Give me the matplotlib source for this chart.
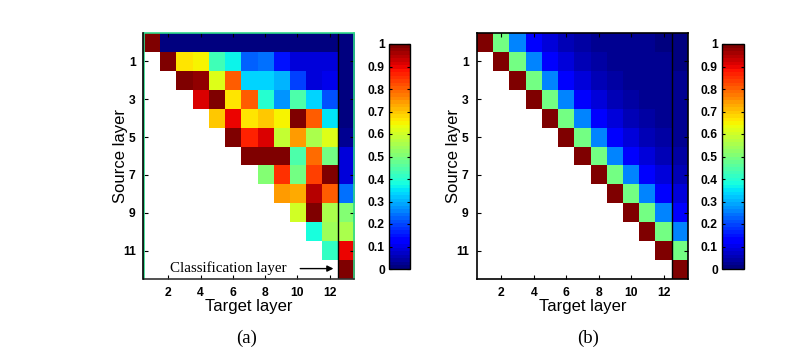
import numpy as np
import matplotlib
matplotlib.use("Agg")
import matplotlib.pyplot as plt
from matplotlib.colors import ListedColormap
from matplotlib.lines import Line2D

n = float('nan')
# Panel (a): transfer matrix, rows = source layer 0..12, cols = target layer 1..13
panel_a = [
    [0.99, 0.01, 0.01, 0.01, 0.01, 0.01, 0.01, 0.01, 0.01, 0.01, 0.01, 0.01, 0.01],
    [n, 0.99, 0.66, 0.65, 0.43, 0.36, 0.22, 0.24, 0.15, 0.09, 0.08, 0.09, 0.01],
    [n, n, 0.99, 0.98, 0.62, 0.80, 0.33, 0.33, 0.31, 0.20, 0.09, 0.10, 0.01],
    [n, n, n, 0.92, 0.99, 0.66, 0.80, 0.40, 0.28, 0.45, 0.34, 0.21, 0.01],
    [n, n, n, n, 0.70, 0.90, 0.66, 0.69, 0.65, 1.00, 0.80, 0.35, 0.01],
    [n, n, n, n, n, 0.99, 0.87, 0.92, 0.585, 0.74, 0.55, 0.62, 0.02],
    [n, n, n, n, n, n, 1.00, 1.00, 1.00, 0.45, 0.79, 0.49, 0.08],
    [n, n, n, n, n, n, n, 0.51, 0.85, 0.49, 0.84, 0.99, 0.08],
    [n, n, n, n, n, n, n, n, 0.74, 0.73, 0.94, 0.80, 0.24],
    [n, n, n, n, n, n, n, n, n, 0.60, 0.99, 0.55, 0.50],
    [n, n, n, n, n, n, n, n, n, n, 0.375, 0.54, 0.55],
    [n, n, n, n, n, n, n, n, n, n, n, 0.42, 0.90],
    [n, n, n, n, n, n, n, n, n, n, n, n, 0.99],
]
# Panel (b)
panel_b = [
    [0.99, 0.49, 0.25, 0.13, 0.08, 0.055, 0.04, 0.03, 0.025, 0.02, 0.02, 0.015, 0.015],
    [n, 0.99, 0.49, 0.25, 0.13, 0.08, 0.055, 0.04, 0.03, 0.025, 0.02, 0.02, 0.015],
    [n, n, 0.99, 0.49, 0.25, 0.13, 0.08, 0.055, 0.04, 0.03, 0.025, 0.02, 0.02],
    [n, n, n, 0.99, 0.49, 0.25, 0.13, 0.08, 0.055, 0.04, 0.03, 0.025, 0.02],
    [n, n, n, n, 0.99, 0.49, 0.25, 0.13, 0.08, 0.055, 0.04, 0.03, 0.025],
    [n, n, n, n, n, 0.99, 0.49, 0.25, 0.13, 0.08, 0.055, 0.04, 0.03],
    [n, n, n, n, n, n, 0.99, 0.49, 0.25, 0.13, 0.08, 0.055, 0.04],
    [n, n, n, n, n, n, n, 0.99, 0.49, 0.25, 0.13, 0.08, 0.06],
    [n, n, n, n, n, n, n, n, 0.99, 0.49, 0.25, 0.13, 0.09],
    [n, n, n, n, n, n, n, n, n, 0.99, 0.49, 0.25, 0.13],
    [n, n, n, n, n, n, n, n, n, n, 0.99, 0.49, 0.25],
    [n, n, n, n, n, n, n, n, n, n, n, 0.99, 0.49],
    [n, n, n, n, n, n, n, n, n, n, n, n, 0.99],
]
x_ticks = [2, 4, 6, 8, 10, 12]
y_ticks = [1, 3, 5, 7, 9, 11]
cbar_ticks = [0, 0.1, 0.2, 0.3, 0.4, 0.5, 0.6, 0.7, 0.8, 0.9, 1]
cbar_labels = ["0", "0.1", "0.2", "0.3", "0.4", "0.5", "0.6", "0.7", "0.8", "0.9", "1"]

plt.rcParams['font.family'] = ['Liberation Sans', 'DejaVu Sans']
cmap = ListedColormap(plt.get_cmap('jet')(np.linspace(0, 1, 64)))

W, H = 805, 363
fig = plt.figure(figsize=(W / 100, H / 100), dpi=100)

def px(l, t, r, b):
    return [l / W, 1 - b / H, (r - l) / W, (b - t) / H]

green = '#2fd98a'

def panel(ax_rect, cb_rect, data, label, label_x, framed_green):
    ax = fig.add_axes(px(*ax_rect))
    arr = np.array(data, dtype=float)
    im = ax.imshow(np.ma.masked_invalid(arr), cmap=cmap, vmin=0, vmax=1,
                   extent=[0.5, 13.5, 12.5, -0.5], aspect='auto',
                   interpolation='nearest')
    ax.set_xlim(0.5, 13.5)
    ax.set_ylim(12.5, -0.5)
    ax.set_xticks(x_ticks)
    ax.set_yticks(y_ticks)
    ax.tick_params(direction='in', length=3, labelsize=8.7, top=True, right=True,
                   width=0.8, pad=6)
    for t in ax.get_xticklabels() + ax.get_yticklabels():
        t.set_fontweight('bold')
    ax.set_xlabel('Target layer', fontsize=12, labelpad=0)
    ax.set_ylabel('Source layer', fontsize=12, labelpad=-4)
    ax.axvline(12.5, color='black', lw=1.0)
    for s in ax.spines.values():
        s.set_linewidth(1.2)
        s.set_color('black')
    if framed_green:
        for k in ['top', 'right', 'left']:
            ax.spines[k].set_color(green)
        ax.spines['bottom'].set_color('#333333')
        fig.add_artist(Line2D([142.5 / W, 142.5 / W], [1 - 279 / H, 1 - 33 / H],
                              color='black', lw=1.2, transform=fig.transFigure))
    cax = fig.add_axes(px(*cb_rect))
    cb = fig.colorbar(im, cax=cax)
    cb.set_ticks(cbar_ticks)
    cb.set_ticklabels(cbar_labels)
    cax.yaxis.set_ticks_position('both')
    cax.yaxis.set_label_position('left')
    cax.tick_params(direction='in', length=2.5, labelsize=8.7, left=True, right=True,
                    labelleft=True, labelright=False, width=0.8, pad=3)
    for t in cax.get_yticklabels():
        t.set_fontweight('bold')
    cb.outline.set_linewidth(1.0)
    fig.text(label_x / W, 1 - 338 / H, label, fontsize=13.5,
             family=['Liberation Serif', 'DejaVu Serif'], ha='center', va='center')
    return ax

ax_a = panel((144, 33, 354, 279), (389, 44, 410, 269), panel_a, '(a)', 247, True)
ax_b = panel((477, 33, 688, 279), (722, 44, 744, 269), panel_b, '(b)', 588, False)

ax_a.annotate('', xy=(12.4, 11.95), xytext=(10.0, 11.95),
              arrowprops=dict(arrowstyle='-|>', color='black', lw=1.0,
                              mutation_scale=9))
ax_a.text(2.1, 11.95, 'Classification layer', fontsize=10.8,
          family=['Liberation Serif', 'DejaVu Serif'], ha='left', va='center')

fig.savefig('out.png', dpi=100)
